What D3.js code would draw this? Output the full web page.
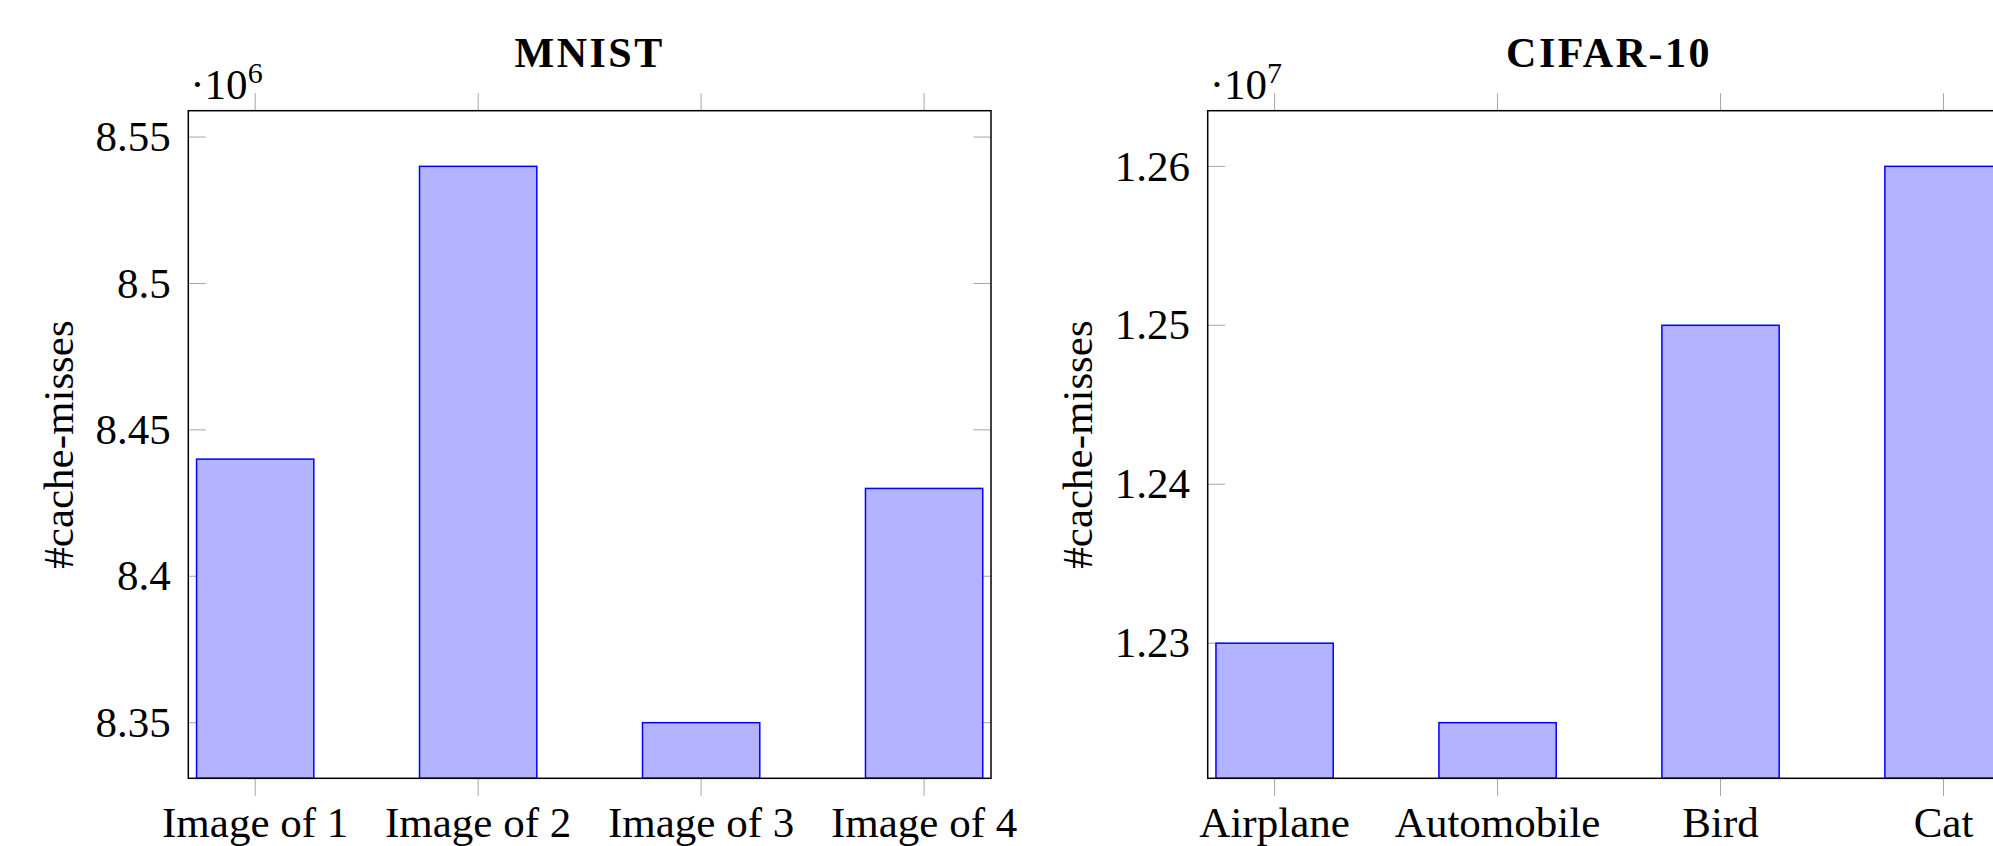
<!DOCTYPE html>
<html>
<head>
<meta charset="utf-8">
<script src="https://cdn.jsdelivr.net/npm/d3@7"></script>
<style>
  html, body { margin: 0; padding: 0; background: #fff; }
  svg { display: block; }
  text { font-family: 'Liberation Serif', 'Times New Roman', serif; fill: #000; }
</style>
</head>
<body>
<svg id="chart" width="1993" height="846"></svg>
<script>
// values
const mnistCategories = ['Image of 1', 'Image of 2', 'Image of 3', 'Image of 4'];
const mnistValues = [8.44e6, 8.54e6, 8.35e6, 8.43e6];
const mnistTicks = [8.35e6, 8.4e6, 8.45e6, 8.5e6, 8.55e6];

const cifarCategories = ['Airplane', 'Automobile', 'Bird', 'Cat'];
const cifarValues = [1.23e7, 1.225e7, 1.25e7, 1.26e7];
const cifarTicks = [1.23e7, 1.24e7, 1.25e7, 1.26e7];

const panels = [
  { title: 'MNIST', cats: mnistCategories, vals: mnistValues, ticks: mnistTicks, exp: 6, left: 188.3 },
  { title: 'CIFAR-10', cats: cifarCategories, vals: cifarValues, ticks: cifarTicks, exp: 7, left: 1207.7 }
];

const svg = d3.select('#chart');
const W = 802.7, plotTop = 110.7, plotBottom = 778.3;
const FS = 43;
const tickLen = 17.5;
const tickColor = '#a6a6a6';

function drawPanel(p) {
  const x0 = p.left, x1 = p.left + W;
  const g = svg.append('g');

  // pgfplots-like limits: 10% of the data range on each side
  const [lo, hi] = d3.extent(p.vals);
  const pad = (hi - lo) * 0.1;
  const y = d3.scaleLinear().domain([lo - pad, hi + pad]).range([plotBottom, plotTop]);
  const x = d3.scaleLinear().domain([0.7, p.cats.length + 0.3]).range([x0, x1]);
  const barW = x(1.526) - x(1);
  const scale = Math.pow(10, p.exp);

  // y ticks, inside on both sides
  p.ticks.forEach(t => {
    g.append('line').attr('x1', x0).attr('x2', x0 + tickLen)
      .attr('y1', y(t)).attr('y2', y(t))
      .attr('stroke', tickColor).attr('stroke-width', 1);
    g.append('line').attr('x1', x1 - tickLen).attr('x2', x1)
      .attr('y1', y(t)).attr('y2', y(t))
      .attr('stroke', tickColor).attr('stroke-width', 1);
    g.append('text')
      .attr('x', x0 - 17.6).attr('y', y(t)).attr('dy', '0.33em')
      .attr('text-anchor', 'end').attr('font-size', FS)
      .text(d3.format('~g')(+(t / scale).toFixed(4)));
  });

  // x ticks, outside top and bottom
  p.cats.forEach((c, i) => {
    const cx = x(i + 1);
    g.append('line').attr('x1', cx).attr('x2', cx)
      .attr('y1', plotBottom).attr('y2', plotBottom + tickLen)
      .attr('stroke', tickColor).attr('stroke-width', 1);
    g.append('line').attr('x1', cx).attr('x2', cx)
      .attr('y1', plotTop - tickLen).attr('y2', plotTop)
      .attr('stroke', tickColor).attr('stroke-width', 1);
    g.append('text')
      .attr('x', cx).attr('y', 837.3)
      .attr('text-anchor', 'middle').attr('font-size', FS)
      .text(c);
  });

  // bars
  g.selectAll('rect.bar')
    .data(p.vals)
    .enter().append('rect')
    .attr('class', 'bar')
    .attr('x', (d, i) => x(i + 1) - barW / 2)
    .attr('y', d => y(d))
    .attr('width', barW)
    .attr('height', d => plotBottom - y(d))
    .attr('fill', '#b3b3ff')
    .attr('stroke', '#0000ff')
    .attr('stroke-width', 1.5);

  // frame
  g.append('rect')
    .attr('x', x0).attr('y', plotTop)
    .attr('width', W).attr('height', plotBottom - plotTop)
    .attr('fill', 'none').attr('stroke', '#000').attr('stroke-width', 1.5);

  // title
  g.append('text')
    .attr('x', (x0 + x1) / 2).attr('y', 67.3)
    .attr('text-anchor', 'middle').attr('font-size', 42)
    .attr('font-weight', 'bold').attr('letter-spacing', 2.5)
    .text(p.title);

  // exponent marker
  const ex = g.append('text')
    .attr('x', x0 + 2).attr('y', 99.3)
    .attr('font-size', FS);
  ex.append('tspan').text('\u00B710');
  ex.append('tspan').attr('font-size', 30).attr('dy', -16).text(p.exp);

  // y axis title
  g.append('text')
    .attr('transform', `translate(${x0 - 115.3},${(plotTop + plotBottom) / 2}) rotate(-90)`)
    .attr('text-anchor', 'middle').attr('font-size', FS)
    .text('#cache-misses');
}

panels.forEach(drawPanel);
</script>
</body>
</html>
